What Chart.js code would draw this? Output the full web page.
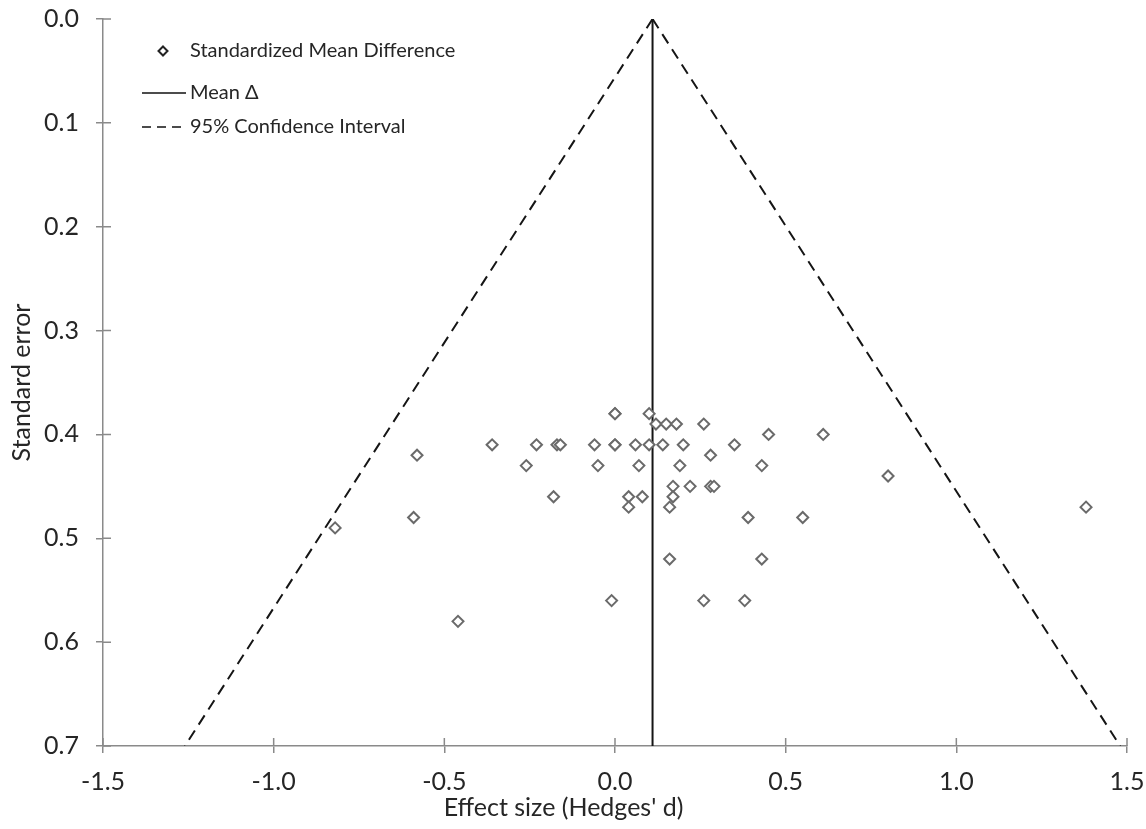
<!DOCTYPE html>
<html>
<head>
<meta charset="utf-8">
<script src="https://cdn.jsdelivr.net/npm/chart.js@4"></script>
<style>
  html,body{margin:0;padding:0;background:#fff;}
  #wrap{width:1146px;height:829px;position:relative;}
</style>
</head>
<body>
<div id="wrap"><canvas id="funnel"></canvas></div>
<script>
// funnel plot — effet vs erreur standard

// Hedges' d et erreur standard de chaque étude
const effectSize = [
  0.00, 0.00, 0.10, 0.12, 0.15, 0.18, 0.26, 0.45, 0.61,
  -0.36, -0.23, -0.17, -0.16, -0.06, 0.00, 0.00, 0.06, 0.10, 0.14, 0.20, 0.35,
  -0.58, 0.28,
  -0.26, -0.05, 0.07, 0.19, 0.43,
  0.80,
  0.17, 0.22, 0.28, 0.29,
  -0.18, 0.04, 0.08, 0.17,
  0.04, 0.16, 1.38,
  -0.59, 0.39, 0.55,
  -0.82,
  0.16, 0.43,
  -0.01, 0.26, 0.38,
  -0.46
];
const stdError = [
  0.38, 0.38, 0.38, 0.39, 0.39, 0.39, 0.39, 0.40, 0.40,
  0.41, 0.41, 0.41, 0.41, 0.41, 0.41, 0.41, 0.41, 0.41, 0.41, 0.41, 0.41,
  0.42, 0.42,
  0.43, 0.43, 0.43, 0.43, 0.43,
  0.44,
  0.45, 0.45, 0.45, 0.45,
  0.46, 0.46, 0.46, 0.46,
  0.47, 0.47, 0.47,
  0.48, 0.48, 0.48,
  0.49,
  0.52, 0.52,
  0.56, 0.56, 0.56,
  0.58
];

// Moyenne et bornes de l'IC 95 % (sommet en haut, base à SE = 0.7)
const meanDelta = 0.11;
const lineSE = [0, 0.7];
const meanX = [meanDelta, meanDelta];
const ciLowerX = [meanDelta, -1.26];
const ciUpperX = [meanDelta, 1.48];

const xTicks = [-1.5, -1.0, -0.5, 0.0, 0.5, 1.0, 1.5];
const yTicks = [0.0, 0.1, 0.2, 0.3, 0.4, 0.5, 0.6, 0.7];

const FONT = "Lato";
const TXT = "#262626";
const AXIS = "#8a8a8a";

const pts = (xs, ys) => xs.map((x, i) => ({x, y: ys[i]}));

// petites graduations à l'intérieur (Excel les fait traverser l'axe)
const crossTicks = {
  id: "crossTicks",
  afterDraw(chart){
    const {ctx, chartArea: a, scales: {x, y}} = chart;
    ctx.save();
    ctx.strokeStyle = AXIS; ctx.lineWidth = 1.5;
    ctx.beginPath();
    xTicks.forEach(v => { const px = x.getPixelForValue(v); ctx.moveTo(px, a.bottom); ctx.lineTo(px, a.bottom - 8); });
    yTicks.forEach(v => { const py = y.getPixelForValue(v); ctx.moveTo(a.left, py); ctx.lineTo(a.left + 8, py); });
    ctx.stroke();
    ctx.restore();
  }
};

// légende façon Excel, en haut à gauche dans la zone du graphe
const excelLegend = {
  id: "excelLegend",
  afterDraw(chart){
    const ctx = chart.ctx;
    const rows = [
      {label: "Standardized Mean Difference", kind: "point", y: 51},
      {label: "Mean \u0394", kind: "solid", y: 93},
      {label: "95% Confidence Interval", kind: "dash", y: 127},
    ];
    ctx.save();
    rows.forEach(r => {
      ctx.setLineDash([]);
      if (r.kind === "point"){
        ctx.strokeStyle = "#222"; ctx.lineWidth = 2; ctx.fillStyle = "#fff";
        ctx.beginPath();
        ctx.moveTo(163, r.y - 4.5); ctx.lineTo(167.5, r.y); ctx.lineTo(163, r.y + 4.5); ctx.lineTo(158.5, r.y);
        ctx.closePath(); ctx.fill(); ctx.stroke();
      } else {
        ctx.strokeStyle = "#111"; ctx.lineWidth = 1.6;
        if (r.kind === "dash") ctx.setLineDash([9, 6]);
        ctx.beginPath(); ctx.moveTo(142, r.y); ctx.lineTo(186, r.y); ctx.stroke();
      }
      ctx.setLineDash([]);
      ctx.fillStyle = TXT; ctx.font = `20px ${FONT}`; ctx.textBaseline = "middle"; ctx.textAlign = "left";
      ctx.fillText(r.label, 190, r.y);
    });
    ctx.restore();
  }
};

new Chart(document.getElementById("funnel"), {
  type: "scatter",
  data: {
    datasets: [
      {
        label: "Standardized Mean Difference",
        data: pts(effectSize, stdError),
        pointStyle: "rectRot", pointRadius: 5.5, pointHoverRadius: 5.5,
        borderColor: "#6a6a6a", backgroundColor: "#fff", borderWidth: 2, order: 1,
      },
      {
        label: "Mean \u0394",
        data: pts(meanX, lineSE),
        showLine: true, pointRadius: 0, borderColor: "#151515", borderWidth: 2, order: 2,
      },
      {
        label: "95% Confidence Interval",
        data: pts(ciLowerX, lineSE),
        showLine: true, pointRadius: 0, borderColor: "#151515", borderWidth: 2, borderDash: [11, 7], order: 3,
      },
      {
        label: "95% CI (upper)",
        data: pts(ciUpperX, lineSE),
        showLine: true, pointRadius: 0, borderColor: "#151515", borderWidth: 2, borderDash: [11, 7], order: 3,
      },
    ],
  },
  options: {
    responsive: true, maintainAspectRatio: false, animation: false,
    layout: {padding: {top: 19, right: 19, left: 0, bottom: 0}},
    scales: {
      x: {
        type: "linear", min: -1.5, max: 1.5,
        afterFit: s => { s.height = 47; s.paddingLeft = 0; s.paddingRight = 0; },
        afterBuildTicks: s => { s.ticks = xTicks.map(v => ({value: v})); },
        ticks: {callback: v => v.toFixed(1), font: {family: FONT, size: 25}, color: TXT, padding: 14, maxRotation: 0},
        grid: {drawOnChartArea: false, tickLength: 7, color: AXIS, lineWidth: 1.5},
        border: {color: AXIS, width: 1.5},
      },
      y: {
        type: "linear", reverse: true, min: 0, max: 0.7,
        afterFit: s => { s.width = 103; s.paddingTop = 0; s.paddingBottom = 0; },
        afterBuildTicks: s => { s.ticks = yTicks.map(v => ({value: v})); },
        ticks: {callback: v => v.toFixed(1), font: {family: FONT, size: 25}, color: TXT, padding: 17},
        grid: {drawOnChartArea: false, tickLength: 7, color: AXIS, lineWidth: 1.5},
        border: {color: AXIS, width: 1.5},
        title: {display: true, text: "Standard error", font: {family: FONT, size: 25}, color: TXT, padding: {top: 7, bottom: 0}},
      },
    },
    plugins: {
      legend: {display: false},
      tooltip: {enabled: false},
      title: {
        display: true, position: "bottom", text: "Effect size (Hedges' d)",
        font: {family: FONT, size: 25, weight: "normal"}, color: TXT, padding: {top: 0, bottom: 6},
      },
    },
  },
  plugins: [crossTicks, excelLegend],
});
</script>
</body>
</html>
